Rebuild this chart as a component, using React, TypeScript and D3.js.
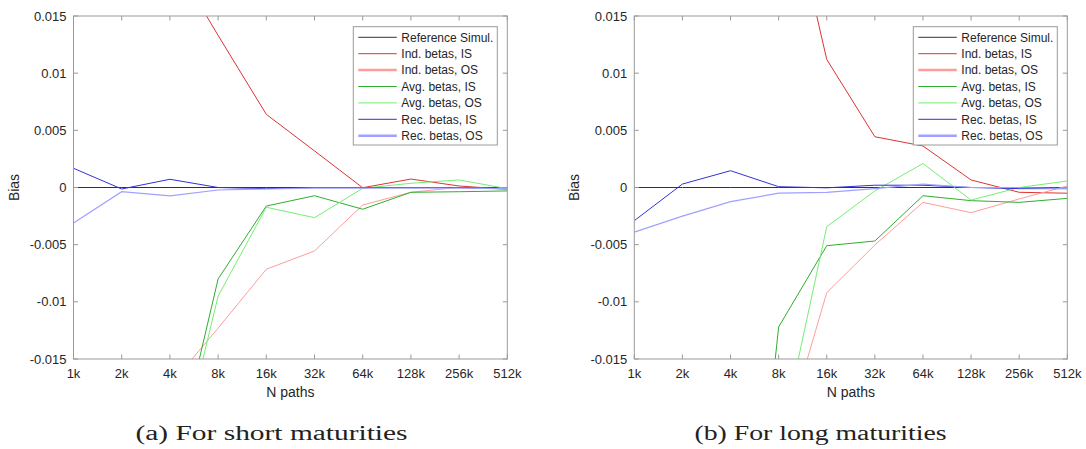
import React from "react";
import * as d3 from "d3";

const xLabels = ["1k", "2k", "4k", "8k", "16k", "32k", "64k", "128k", "256k", "512k"];
const yTicks = [-0.015, -0.01, -0.005, 0, 0.005, 0.01, 0.015];
const yTickLabels = ["-0.015", "-0.01", "-0.005", "0", "0.005", "0.01", "0.015"];
const seriesNames = [
  "Reference Simul.",
  "Ind. betas, IS",
  "Ind. betas, OS",
  "Avg. betas, IS",
  "Avg. betas, OS",
  "Rec. betas, IS",
  "Rec. betas, OS",
];
const captions = ["(a) For short maturities", "(b) For long maturities"];

// Short maturities
const refShort = [0, 0, 0, 0, 0, 0, 0, 0, 0, 0];
const indISShort = [0.06, 0.035, 0.0204, 0.0133, 0.0064, 0.0032, -0.00002, 0.00074, 0.00013, -0.00016];
const indOSShort = [-0.045, -0.03, -0.0173, -0.0123, -0.00715, -0.00555, -0.00153, -0.00042, 0.00002, -0.00016];
const avgISShort = [-0.05, -0.04, -0.026, -0.008, -0.00162, -0.00072, -0.0019, -0.00042, -0.00037, -0.0003];
const avgOSShort = [-0.05, -0.04, -0.027, -0.0095, -0.00173, -0.00264, -0.00007, 0.00037, 0.00066, -0.0001];
const recISShort = [0.00168, -0.00013, 0.00072, 0.0, -0.0001, 0.0, 0.0, 0.0, 0.0, -0.0001];
const recOSShort = [-0.0031, -0.00037, -0.00074, -0.00022, -0.00013, -0.00005, -0.00005, -0.00005, -0.00005, -0.0001];

// Long maturities
const refLong = [0, 0, 0, 0, 0, 0, 0, 0, 0, 0];
const indISLong = [0.09, 0.07, 0.05, 0.0295, 0.0112, 0.00444, 0.00363, 0.00066, -0.00042, -0.0005];
const indOSLong = [-0.06, -0.045, -0.035, -0.0236, -0.0092, -0.00503, -0.0013, -0.0022, -0.001, 0.00013];
const avgISLong = [-0.08, -0.07, -0.052, -0.0122, -0.00509, -0.00468, -0.00072, -0.00115, -0.0013, -0.00095];
const avgOSLong = [-0.06, -0.045, -0.035, -0.023, -0.00343, -0.0003, 0.0021, -0.0011, 0.0, 0.00057];
const recISLong = [-0.0029, 0.0003, 0.00147, 0.00007, -0.00003, 0.0002, 0.0002, 0.0, -0.0001, -0.0001];
const recOSLong = [-0.0039, -0.0025, -0.00124, -0.0005, -0.00042, -0.0001, 0.0003, 0.0, 0.0, -0.0001];

const panelsData = [
  [refShort, indISShort, indOSShort, avgISShort, avgOSShort, recISShort, recOSShort],
  [refLong, indISLong, indOSLong, avgISLong, avgOSLong, recISLong, recOSLong],
];

const colors = ["#333333", "#dd3333", "#ff9c9c", "#2fae2f", "#74ee74", "#3030dd", "#a0a0ff"];
const plotWidths = [1, 1, 1, 1, 1, 1, 1.2];
const legendWidths = [1, 1, 2.5, 1, 1, 1, 2.5];

const SANS = "'Liberation Sans', Arial, Helvetica, sans-serif";
const AXIS = "#9a9a9a";
const TEXT = "#262626";

function Panel({ idx, left, right, capX }: { idx: number; left: number; right: number; capX: number }) {
  const top = 16;
  const bottom = 359;
  const x = d3.scalePoint<string>().domain(xLabels).range([left, right]);
  const y = d3.scaleLinear().domain([-0.015, 0.015]).range([bottom, top]);
  const line = d3
    .line<number>()
    .x((_, i) => x(xLabels[i]) as number)
    .y((v) => y(v));
  const clipId = `clip${idx}`;
  const data = panelsData[idx];
  const legX = right - 154;
  const legY = top + 10.7;
  const rowH = 16.4;
  return (
    <g>
      <defs>
        <clipPath id={clipId}>
          <rect x={left} y={top} width={right - left} height={bottom - top} />
        </clipPath>
      </defs>
      <rect x={left} y={top} width={right - left} height={bottom - top} fill="#fff" />
      <g clipPath={`url(#${clipId})`}>
        {data.map((s, si) => (
          <path
            key={si}
            d={line(s) || ""}
            fill="none"
            stroke={colors[si]}
            strokeWidth={plotWidths[si]}
          />
        ))}
      </g>
      <rect x={left} y={top} width={right - left} height={bottom - top} fill="none" stroke={AXIS} strokeWidth={1} />
      {xLabels.map((l) => {
        const xx = x(l) as number;
        return (
          <g key={l}>
            <line x1={xx} x2={xx} y1={bottom} y2={bottom - 4.5} stroke={AXIS} />
            <line x1={xx} x2={xx} y1={top} y2={top + 4.5} stroke={AXIS} />
            <text x={xx} y={378} textAnchor="middle" fontFamily={SANS} fontSize={13} fill={TEXT}>
              {l}
            </text>
          </g>
        );
      })}
      {yTicks.map((t, i) => {
        const yy = y(t);
        return (
          <g key={t}>
            <line x1={left} x2={left + 4.5} y1={yy} y2={yy} stroke={AXIS} />
            <line x1={right} x2={right - 4.5} y1={yy} y2={yy} stroke={AXIS} />
            <text x={left - 7} y={yy + 4.5} textAnchor="end" fontFamily={SANS} fontSize={13} fill={TEXT}>
              {yTickLabels[i]}
            </text>
          </g>
        );
      })}
      <text x={(left + right) / 2} y={397} textAnchor="middle" fontFamily={SANS} fontSize={14} fill={TEXT}>
        N paths
      </text>
      <text
        transform={`translate(${left - 55},${(top + bottom) / 2}) rotate(-90)`}
        textAnchor="middle"
        fontFamily={SANS}
        fontSize={14}
        fill={TEXT}
      >
        Bias
      </text>
      <rect x={legX} y={legY} width={144} height={118.3} fill="#fff" stroke={AXIS} strokeWidth={1} />
      {seriesNames.map((n, si) => {
        const cy = legY + 10.6 + si * rowH;
        return (
          <g key={n}>
            <line x1={legX + 5} x2={legX + 43.5} y1={cy} y2={cy} stroke={colors[si]} strokeWidth={legendWidths[si]} />
            <text x={legX + 48} y={cy + 4.3} fontFamily={SANS} fontSize={12} fill={TEXT}>
              {n}
            </text>
          </g>
        );
      })}
      <text
        x={capX}
        y={440}
        textAnchor="middle"
        fontFamily="'Liberation Serif', 'Times New Roman', serif"
        fontSize={20}
        fill="#222"
        textLength={idx === 0 ? 272 : 252}
        lengthAdjust="spacingAndGlyphs"
      >
        {captions[idx]}
      </text>
    </g>
  );
}

export default function App() {
  return (
    <svg
      width={1086}
      height={449}
      style={{ position: "absolute", left: 0, top: 0, background: "#fff" }}
    >
      <rect x={0} y={0} width={1086} height={449} fill="#fff" />
      <Panel idx={0} left={73.5} right={507.3} capX={271.5} />
      <Panel idx={1} left={634.3} right={1067.3} capX={820.5} />
    </svg>
  );
}
